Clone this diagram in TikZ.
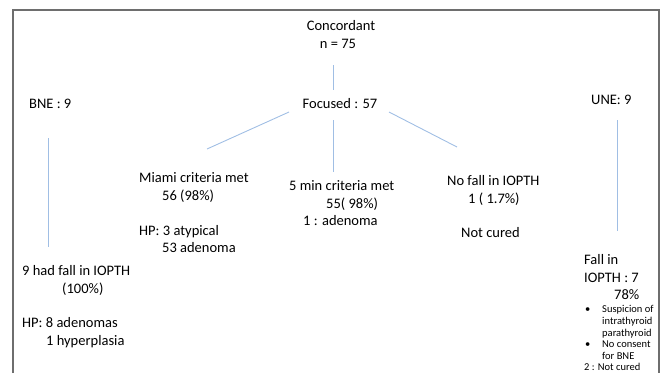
\documentclass[tikz,border=0pt]{standalone}
\usepackage{fontspec}
\setmainfont{Carlito}
\definecolor{linkblue}{RGB}{160,190,228}
\definecolor{framegray}{RGB}{110,110,110}
\begin{document}
\begin{tikzpicture}[x=1pt,y=-1pt,
  txt/.style={anchor=base west,inner sep=0pt,font=\fontsize{14.5}{17}\selectfont},
  ctxt/.style={anchor=base,inner sep=0pt,font=\fontsize{14.5}{17}\selectfont},
  small/.style={anchor=base west,inner sep=0pt,font=\fontsize{10.5}{12}\selectfont},
  link/.style={draw=linkblue,line width=0.9pt},
  frame/.style={draw=framegray,line width=1.3pt}]
\useasboundingbox (0,0) rectangle (661,373);
% frame (open at bottom)
\coordinate (fbl) at (13,373);
\coordinate (ftl) at (13,10);
\coordinate (ftr) at (659,10);
\coordinate (fbr) at (659,373);
\draw[frame] (fbl) -- (ftl) -- (ftr) -- (fbr);
% top
\node[ctxt] (conc) at (341,30) {Concordant};
\node[ctxt] (n75) at (338,48) {n = 75};
\node[ctxt] (foc) at (340,108) {Focused : 57};
\node[txt] (bne) at (29,108) {BNE : 9};
\node[txt] (une) at (591,104) {UNE: 9};
% lines
\coordinate (c1a) at (333,65); \coordinate (c1b) at (333,90);
\draw[link] (c1a) -- (c1b);
\coordinate (l1a) at (289,112); \coordinate (l1b) at (207,149);
\draw[link] (l1a) -- (l1b);
\coordinate (m1a) at (333,120); \coordinate (m1b) at (333,172);
\draw[link] (m1a) -- (m1b);
\coordinate (r1a) at (389,112); \coordinate (r1b) at (457,147);
\draw[link] (r1a) -- (r1b);
\coordinate (b1a) at (48,138); \coordinate (b1b) at (48,247);
\draw[link] (b1a) -- (b1b);
\coordinate (u1a) at (617,120); \coordinate (u1b) at (617,231);
\draw[link] (u1a) -- (u1b);
% Miami
\node[txt] (mia1) at (139,182) {Miami criteria met};
\node[txt] (mia2) at (162,200) {56 (98\%)};
\node[txt] (mia3) at (139,235) {HP: 3 atypical};
\node[txt] (mia4) at (162,252) {53 adenoma};
% 5 min
\node[txt] (fiv1) at (289,190) {5 min criteria met};
\node[txt] (fiv2) at (326,208) {55( 98\%)};
\node[txt] (fiv3) at (303,225) {1 : adenoma};
% No fall
\node[txt] (nof1) at (447,185) {No fall in IOPTH};
\node[txt] (nof2) at (468,203) {1 ( 1.7\%)};
\node[txt] (nof3) at (461,237) {Not cured};
% BNE branch
\node[txt] (bn1) at (22,275) {9 had fall in IOPTH};
\node[txt] (bn2) at (62,293) {(100\%)};
\node[txt] (bn3) at (22,327) {HP: 8 adenomas};
\node[txt] (bn4) at (46,345) {1 hyperplasia};
% UNE branch
\node[txt] (un1) at (584,264) {Fall in};
\node[txt] (un2) at (584,282) {IOPTH : 7};
\node[txt] (un3) at (614,299) {78\%};
\node[small] (ub1) at (585,312) {•};
\node[small] (us1) at (602,312) {Suspicion of};
\node[small] (us2) at (602,324) {intrathyroid};
\node[small] (us3) at (602,336) {parathyroid};
\node[small] (ub2) at (585,347) {•};
\node[small] (us4) at (602,347) {No consent};
\node[small] (us5) at (602,359) {for BNE};
\node[small] (us6) at (584,370) {2 : Not cured};
\end{tikzpicture}
\end{document}
